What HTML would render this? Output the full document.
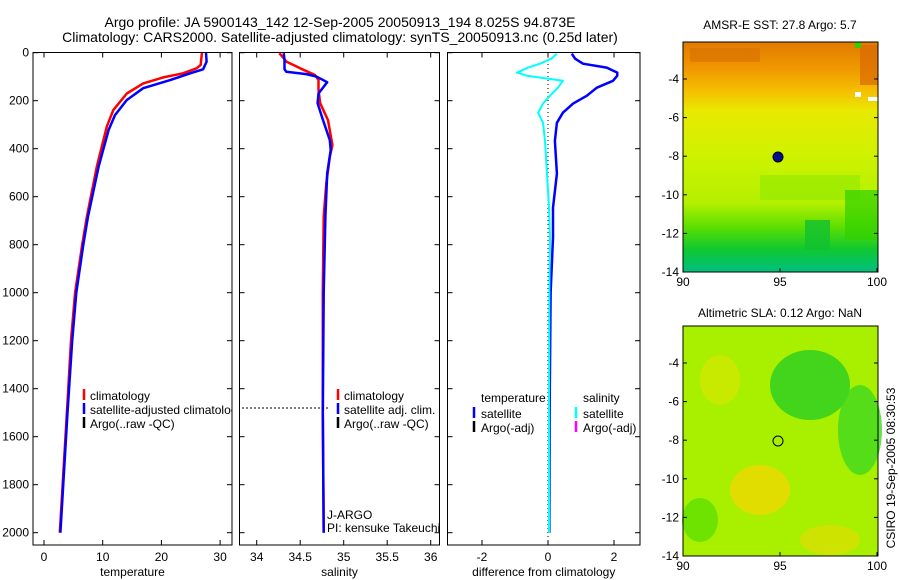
<!DOCTYPE html>
<html><head><meta charset="utf-8"><style>
body{margin:0;background:#fff;overflow:hidden;}
svg{display:block;font-family:"Liberation Sans",sans-serif;}
text{font-size:12px;fill:#000;}
</style></head><body>
<svg id="fig" width="900" height="580" viewBox="0 0 900 580">
<defs>
<linearGradient id="sstg" x1="0" y1="0" x2="0" y2="1">
<stop offset="0" stop-color="#e07a00"/><stop offset="0.12" stop-color="#f09a00"/><stop offset="0.22" stop-color="#f5c200"/><stop offset="0.3" stop-color="#e8ea00"/><stop offset="0.5" stop-color="#cdf200"/><stop offset="0.7" stop-color="#b4f000"/><stop offset="0.8" stop-color="#60e000"/><stop offset="0.9" stop-color="#10c830"/><stop offset="1" stop-color="#00c080"/>
</linearGradient>
<clipPath id="c1"><rect x="33" y="52" width="199" height="493"/></clipPath>
<clipPath id="c2"><rect x="239" y="52" width="200" height="493"/></clipPath>
<clipPath id="c3"><rect x="448" y="52" width="192" height="493"/></clipPath>
</defs>
<text x="340" y="27" text-anchor="middle" style="font-size:14px">Argo profile: JA 5900143_142 12-Sep-2005 20050913_194 8.025S 94.873E</text>
<text x="340" y="42" text-anchor="middle" style="font-size:14px">Climatology: CARS2000. Satellite-adjusted climatology: synTS_20050913.nc (0.25d later)</text>
<g id="panels"></g>
<g>
<text x="780" y="29" text-anchor="middle">AMSR-E SST: 27.8 Argo: 5.7</text>
<rect x="683" y="42" width="195" height="230" fill="url(#sstg)"/>
<rect x="690" y="48" width="70" height="14" fill="#d87000" opacity="0.6"/>
<rect x="860" y="45" width="18" height="40" fill="#d86a00" opacity="0.7"/>
<rect x="855" y="42" width="6" height="6" fill="#30d000"/>
<rect x="855" y="92" width="6" height="5" fill="#fff"/><rect x="868" y="97" width="10" height="4" fill="#fff"/>
<rect x="760" y="175" width="100" height="25" fill="#90ea00" opacity="0.6"/>
<rect x="805" y="220" width="25" height="30" fill="#10c030" opacity="0.8"/>
<rect x="845" y="190" width="33" height="50" fill="#30d000" opacity="0.7"/>
<circle cx="778" cy="157" r="5" fill="#001090" stroke="#000"/>
<rect x="683" y="42" width="195" height="230" fill="none" stroke="#000"/>
</g>
<g>
<text x="780" y="317" text-anchor="middle">Altimetric SLA: 0.12 Argo: NaN</text>
<rect x="683" y="326" width="195" height="230" fill="#a8f000"/>
<ellipse cx="810" cy="385" rx="40" ry="35" fill="#30d020" opacity="0.85"/>
<ellipse cx="860" cy="430" rx="22" ry="45" fill="#40d820" opacity="0.8"/>
<ellipse cx="760" cy="490" rx="30" ry="25" fill="#f0d800" opacity="0.8"/>
<ellipse cx="720" cy="380" rx="20" ry="25" fill="#d0e800" opacity="0.8"/>
<ellipse cx="700" cy="520" rx="18" ry="22" fill="#60e000" opacity="0.8"/>
<ellipse cx="830" cy="540" rx="30" ry="15" fill="#d8e000" opacity="0.8"/>
<circle cx="778" cy="441" r="5" fill="none" stroke="#000"/>
<rect x="683" y="326" width="195" height="230" fill="none" stroke="#000"/>
</g>
<text transform="translate(895,468) rotate(-90)" text-anchor="middle">CSIRO 19-Sep-2005 08:30:53</text>
</svg>
<script>
const depthTicks=[0,200,400,600,800,1000,1200,1400,1600,1800,2000];
const climTDepth=[1,51,65,86,103,128,170,239,308,475,683,800,1000,1200,1500,2000];
const climTemp=[26.9,26.7,26,23.7,20.3,16.9,14.1,11.8,10.7,9,7.3,6.5,5.3,4.6,3.9,2.7];
const satTDepth=[1,37,69,86,114,148,197,260,322,475,683,800,1000,1200,1500,2000];
const satTemp=[27.6,27.7,27.1,24.9,21.5,16.9,14.1,12.1,11,9.3,7.5,6.7,5.5,4.8,4.0,2.8];
const climSDepth=[2,23,37,65,93,114,155,211,281,385,434,544,683,1000,1500,2000];
const climSal=[34.26,34.31,34.34,34.5,34.67,34.71,34.71,34.73,34.82,34.87,34.84,34.8,34.77,34.76,34.76,34.77];
const satSDepth=[2,30,69,79,89,100,123,170,211,267,364,405,503,683,1000,1500,2000];
const satSal=[34.31,34.32,34.32,34.34,34.57,34.69,34.81,34.71,34.7,34.75,34.84,34.85,34.81,34.79,34.77,34.76,34.77];
const diffDepth=[4,25,46,62,83,96,117,146,179,212,250,292,367,504,646,771,1000,1500,2000];
const diffTemp=[0.72,0.82,1.06,1.78,2.1,2.1,1.97,1.48,1.18,0.76,0.45,0.27,0.21,0.27,0.15,0.15,0.08,0.05,0.04];
const diffSal=[0.27,0.1,-0.24,-0.6,-0.94,-0.64,0.45,0.3,0.06,-0.15,-0.3,-0.15,-0.09,-0.03,0.03,0.06,0.04,0.03,0.03];
const tempTicks=[0,10,20,30];
const salTicks=[34,34.5,35,35.5,36];
const diffTicks=[-2,0,2];
const mapLonTicks=[90,95,100];
const latTicks=[-4,-6,-8,-10,-12,-14];

const NS="http://www.w3.org/2000/svg";
const fig=document.getElementById('fig');
function el(tag,attrs,parent){const e=document.createElementNS(NS,tag);for(const k in attrs)e.setAttribute(k,attrs[k]);(parent||fig).appendChild(e);return e;}
function txt(x,y,s,anchor,parent){const t=el('text',{x:x,y:y,'text-anchor':anchor||'middle'},parent);t.textContent=s;return t;}
const TOP=52.5,BOT=545;
const yD=d=>52.7+d*0.24;
const panels=[
 {name:'temperature',x0:33,x1:232,xs:v=>44+v*5.87,ticks:tempTicks,label:'temperature',clip:'c1'},
 {name:'salinity',x0:239.5,x1:439.5,xs:v=>256.7+(v-34)*87,ticks:salTicks,label:'salinity',clip:'c2'},
 {name:'difference',x0:447.5,x1:640,xs:v=>548+v*33,ticks:diffTicks,label:'difference from climatology',clip:'c3'}
];
const root=document.getElementById('panels');
panels.forEach((p,i)=>{
 const g=el('g',{},root);
 
 
 el('rect',{x:p.x0,y:TOP,width:p.x1-p.x0,height:BOT-TOP,fill:'none',stroke:'#000'},g);
 p.ticks.forEach(t=>{const x=p.xs(t);el('line',{x1:x,x2:x,y1:BOT,y2:BOT-5,stroke:'#000'},g);el('line',{x1:x,x2:x,y1:TOP,y2:TOP+5,stroke:'#000'},g);txt(x,561,String(t),'middle',g);});
 depthTicks.forEach(d=>{const y=yD(d);el('line',{x1:p.x0,x2:p.x0+5,y1:y,y2:y,stroke:'#000'},g);el('line',{x1:p.x1,x2:p.x1-5,y1:y,y2:y,stroke:'#000'},g);if(i==0)txt(p.x0-4,y+4,String(d),'end',g);});
 const xl=txt((p.x0+p.x1)/2,576,p.label,'middle',g);
 
 
 p.g=g;
});
function line(p,xsArr,ds,color,w,name){
 const pts=xsArr.map((v,k)=>p.xs(v).toFixed(1)+','+yD(ds[k]).toFixed(1)).join(' ');
 const l=el('polyline',{points:pts,fill:'none',stroke:color,'stroke-width':w,'stroke-linejoin':'round','clip-path':'url(#'+p.clip+')'},p.g);
 
 
}
line(panels[0],climTemp,climTDepth,'#f00',2.5,'climatology-temperature-line');
line(panels[0],satTemp,satTDepth,'#00f',2.5,'satellite-temperature-line');
line(panels[1],climSal,climSDepth,'#f00',2.5,'climatology-salinity-line');
line(panels[1],satSal,satSDepth,'#00f',2.5,'satellite-salinity-line');
el('line',{x1:548,x2:548,y1:60,y2:545,stroke:'#000','stroke-dasharray':'1,3'},panels[2].g);
line(panels[2],diffTemp,diffDepth,'#00f',2.5,'temperature-difference-line');
line(panels[2],diffSal,diffDepth,'#0ff',2,'salinity-difference-line');
el('line',{x1:242,x2:330,y1:408,y2:408,stroke:'#000','stroke-dasharray':'2,2'},panels[1].g);
txt(327,519,'J-ARGO','start',panels[1].g);txt(327,532,'PI: kensuke Takeuchi','start',panels[1].g);
function legend(g,x,items,name,clip){
 const lg=el('g',{},g);
 if(clip)lg.setAttribute('clip-path','url(#'+clip+')');
 
 
 items.forEach((it,k)=>{const y=398+k*14;el('line',{x1:x,x2:x,y1:y-9,y2:y+2,stroke:it[1],'stroke-width':2.5},lg);txt(x+6,y+2,it[0],'start',lg);});
}
legend(panels[0].g,84,[['climatology','#f00'],['satellite-adjusted climatology','#00f'],['Argo(..raw -QC)','#000']],'temperature-legend','c1');
legend(panels[1].g,338,[['climatology','#f00'],['satellite adj. clim.','#00f'],['Argo(..raw -QC)','#000']],'salinity-legend','c2');
txt(481,402,'temperature','start',panels[2].g);txt(583,402,'salinity','start',panels[2].g);
const l3=el('g',{},panels[2].g);


[['satellite','#00f',474],['Argo(-adj)','#000',474],['satellite','#0ff',576],['Argo(-adj)','#f0f',576]].forEach((it,k)=>{const y=416+(k%2)*14;el('line',{x1:it[2],x2:it[2],y1:y-9,y2:y+2,stroke:it[1],'stroke-width':2.5},l3);txt(it[2]+7,y+2,it[0],'start',l3);});
function mapAxes(top,bottom){
 const xs=v=>683+(v-90)*19.4;
 mapLonTicks.forEach(v=>{el('line',{x1:xs(v),x2:xs(v),y1:bottom,y2:bottom-4,stroke:'#000'});txt(xs(v),bottom+14,String(v));});
 latTicks.forEach(v=>{const y=bottom-(v+14)*19.3;if(y>top){el('line',{x1:683,x2:687,y1:y,y2:y,stroke:'#000'});el('line',{x1:878,x2:874,y1:y,y2:y,stroke:'#000'});txt(679,y+4,String(v),'end');}});
}
mapAxes(42,272);mapAxes(326,556);
</script>
</body></html>
